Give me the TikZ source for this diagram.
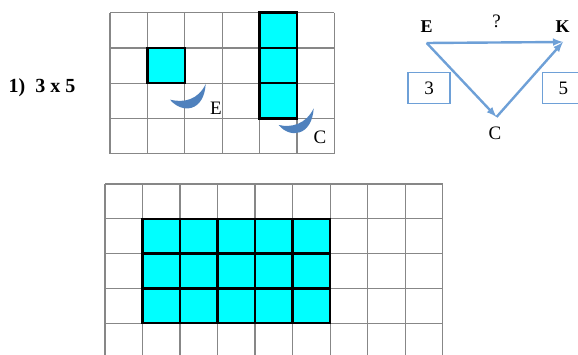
\documentclass[tikz,border=0pt]{standalone}
\usepackage{fontspec}
\setmainfont{Liberation Serif}
\usetikzlibrary{calc}
\definecolor{tilecyan}{RGB}{0, 255, 255}
\definecolor{gridgray}{RGB}{135,135,135}
\definecolor{moonblue}{RGB}{79, 129, 189}
\definecolor{arrowblue}{RGB}{110, 160, 215}

\begin{document}
\begin{tikzpicture}[x=1pt, y=-1pt, >=latex,
  font=\fontsize{19}{21}\selectfont,
  tile/.style={fill=tilecyan, draw=black, line width=2.4pt},
  gridline/.style={gridgray, line width=1.2pt},
  numbox/.style={draw=arrowblue, line width=1.5pt, minimum width=42pt, minimum height=31pt, inner sep=0pt},
  link/.style={->, arrowblue, line width=2.4pt},
  moon/.style={fill=moonblue, draw=none}]

\useasboundingbox (0,0) rectangle (578,355);
\clip (0,0) rectangle (578,355);

% ===== TOP GRID: one tile and one column of three =====
\foreach \i in {0,...,6}
  \draw[gridline] ({110+37.4*\i},12.7) -- ({110+37.4*\i},154);
\foreach \j in {0,...,4}
  \draw[gridline] (110,{12.7+35.3*\j}) -- (334.4,{12.7+35.3*\j});

\draw[tile] (147.4,48) rectangle (184.8,83.3);
\foreach \j in {0,1,2}
  \draw[tile] (259.6,{12.7+35.3*\j}) rectangle (297,{48+35.3*\j});

% crescents (arrows of turn)
\fill[moon] (170,99.7) .. controls (182,114) and (204,112) .. (205.7,84)
  .. controls (198,100) and (184,103) .. cycle;
\fill[moon] (278.7,125) .. controls (290,139) and (312,136) .. (313.7,108.3)
  .. controls (306,124) and (292,128) .. cycle;

\node (labE) at (216,108) {E};
\node (labC) at (320,137) {C};

\node[font=\fontsize{20}{22}\selectfont\bfseries] (task) at (42,88) {1)~ 3 x 5};

% ===== SCHEME E -> C -> K =====
\node[font=\fontsize{18}{20}\selectfont\bfseries] (E) at (426.7,27) {E};
\node[font=\fontsize{18}{20}\selectfont\bfseries] (K) at (562.7,27) {K};
\node (C) at (495,133) {C};
\node (q) at (496.7,21) {?};

\coordinate (pE) at (426.7,43);
\coordinate (pK) at (563,42);
\coordinate (pC) at (496.5,117);

\draw[link] (pE) -- (pK);
\draw[link] (pE) -- (pC);
\draw[link] (pC) -- (pK);

\node[numbox] (three) at (429.2,88) {3};
\node[numbox] (five) at (563.3,88) {5};

% ===== BOTTOM GRID: 3 x 5 block =====
\foreach \i in {0,...,9}
  \draw[gridline] ({105+37.52*\i},184) -- ({105+37.52*\i},360);
\foreach \j in {0,...,4}
  \draw[gridline] (105,{184+34.8*\j}) -- (442.7,{184+34.8*\j});

\foreach \i in {0,...,4}
  \foreach \j in {0,1,2}
    \draw[tile] ({142.5+37.52*\i},{218.8+34.8*\j}) rectangle ({180+37.52*\i},{253.6+34.8*\j});

\end{tikzpicture}
\end{document}
